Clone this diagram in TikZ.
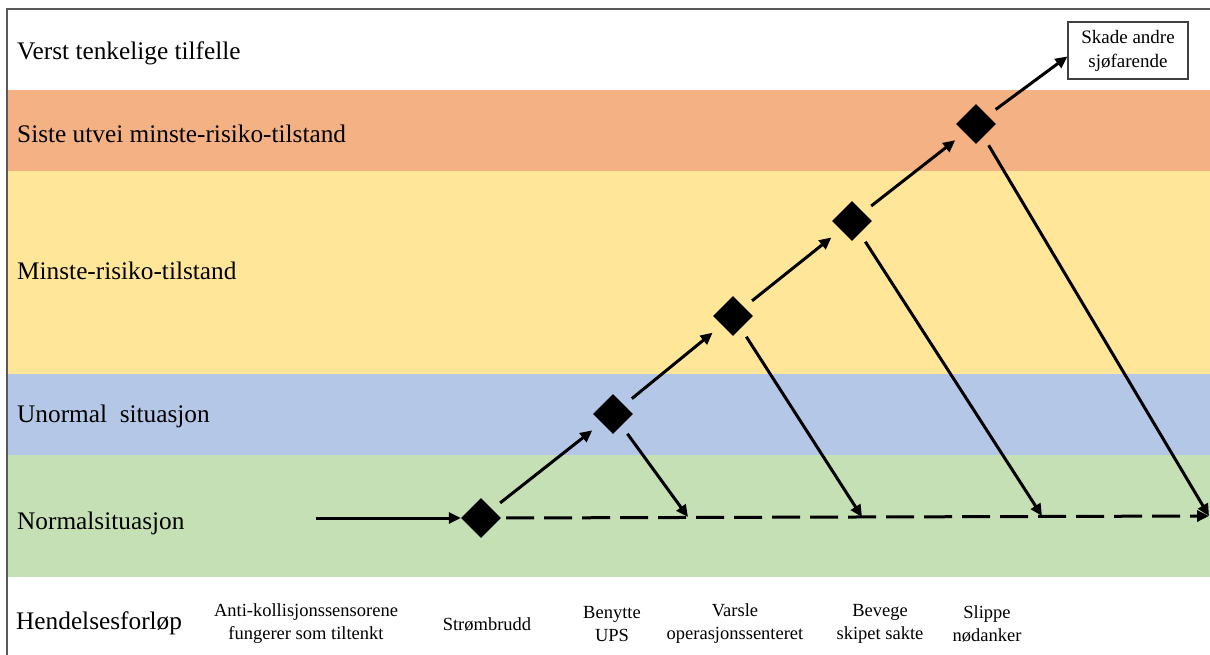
\documentclass[tikz,border=0pt]{standalone}
\usepackage{fontspec}
\newfontfamily\timesfont{Liberation Serif}
\usetikzlibrary{shapes.geometric,arrows.meta}
\definecolor{bandorange}{HTML}{F4B183}
\definecolor{bandyellow}{HTML}{FFE699}
\definecolor{bandblue}{HTML}{B4C7E7}
\definecolor{bandgreen}{HTML}{C5E0B4}
\definecolor{framegray}{HTML}{595959}
\definecolor{boxgray}{HTML}{404040}
\begin{document}
\begin{tikzpicture}[x=1pt,y=-1pt,
  bandlabel/.style={anchor=west,inner sep=0pt,font=\timesfont\fontsize{25.3}{30}\selectfont},
  steplabel/.style={align=center,inner sep=0pt,font=\timesfont\fontsize{18.5}{23}\selectfont},
  decision/.style={diamond,fill=black,inner sep=0pt,shape aspect=1,
                   minimum width=40pt,minimum height=40pt},
  outcome/.style={draw=boxgray,line width=1.2pt,fill=white,align=center,
                  minimum width=120pt,minimum height=57pt,inner sep=0pt,
                  font=\timesfont\fontsize{19}{24}\selectfont},
  flow/.style={line width=3pt,-{Triangle[length=12pt,width=11pt]}},
  fallback/.style={flow,dash pattern=on 28pt off 10pt}]
\useasboundingbox (0,0) rectangle (1210,655);

% risk level bands
\fill[bandorange] (8,90) rectangle (1210,171);
\fill[bandyellow] (8,171) rectangle (1210,374);
\fill[bandblue] (8,374) rectangle (1210,455);
\fill[bandgreen] (8,455) rectangle (1210,577);
\draw[framegray,line width=1.5pt] (7,655) -- (7,9) -- (1210,9);

% band titles
\node[bandlabel] (l0) at (17,53) {Verst tenkelige tilfelle};
\node[bandlabel] (l1) at (17,134) {Siste utvei minste-risiko-tilstand};
\node[bandlabel] (l2) at (17,271) {Minste-risiko-tilstand};
\node[bandlabel] (l3) at (17,416) {Unormal\ \ situasjon};
\node[bandlabel] (l4) at (17,523) {Normalsituasjon};
\node[bandlabel] (l5) at (16,623) {Hendelsesforløp};

% event sequence captions
\node[steplabel] (c0) at (306,624) {Anti-kollisjonssensorene\\fungerer som tiltenkt};
\node[steplabel] (c1) at (487,624) {Strømbrudd};
\node[steplabel] (c2) at (612,624) {Benytte\\UPS};
\node[steplabel] (c3) at (735,624) {Varsle\\operasjonssenteret};
\node[steplabel] (c4) at (880,624) {Bevege\\skipet sakte};
\node[steplabel] (c5) at (987,624) {Slippe\\nødanker};

% decision points
\node[decision] (d1) at (481,518) {};
\node[decision] (d2) at (613,414) {};
\node[decision] (d3) at (733,316) {};
\node[decision] (d4) at (852,221) {};
\node[decision] (d5) at (976,124) {};
\node[outcome] (end) at (1128,50.5) {Skade andre\\sjøfarende};

% return points on the normal line
\coordinate (s0) at (316,518);
\coordinate (t2) at (688,517);
\coordinate (t3) at (862,517);
\coordinate (t4) at (1042,516);
\coordinate (t5) at (1209,516);

% escalation path
\draw[flow] (s0) -- (d1.west);
\draw[flow,shorten <=10pt,shorten >=12pt] (d1) -- (d2);
\draw[flow,shorten <=10pt,shorten >=12pt] (d2) -- (d3);
\draw[flow,shorten <=10pt,shorten >=12pt] (d3) -- (d4);
\draw[flow,shorten <=10pt,shorten >=12pt] (d4) -- (d5);
\draw[flow,shorten <=10pt] (d5) -- ([yshift=-6pt]end.west);

% recovery back to normal operation
\draw[fallback,shorten <=5pt] (d1.east) -- (t5);
\draw[flow,shorten <=10pt] (d2) -- (t2);
\draw[flow,shorten <=10pt] (d3) -- (t3);
\draw[flow,shorten <=10pt] (d4) -- (t4);
\draw[flow,shorten <=10pt] (d5) -- (t5);
\end{tikzpicture}
\end{document}
